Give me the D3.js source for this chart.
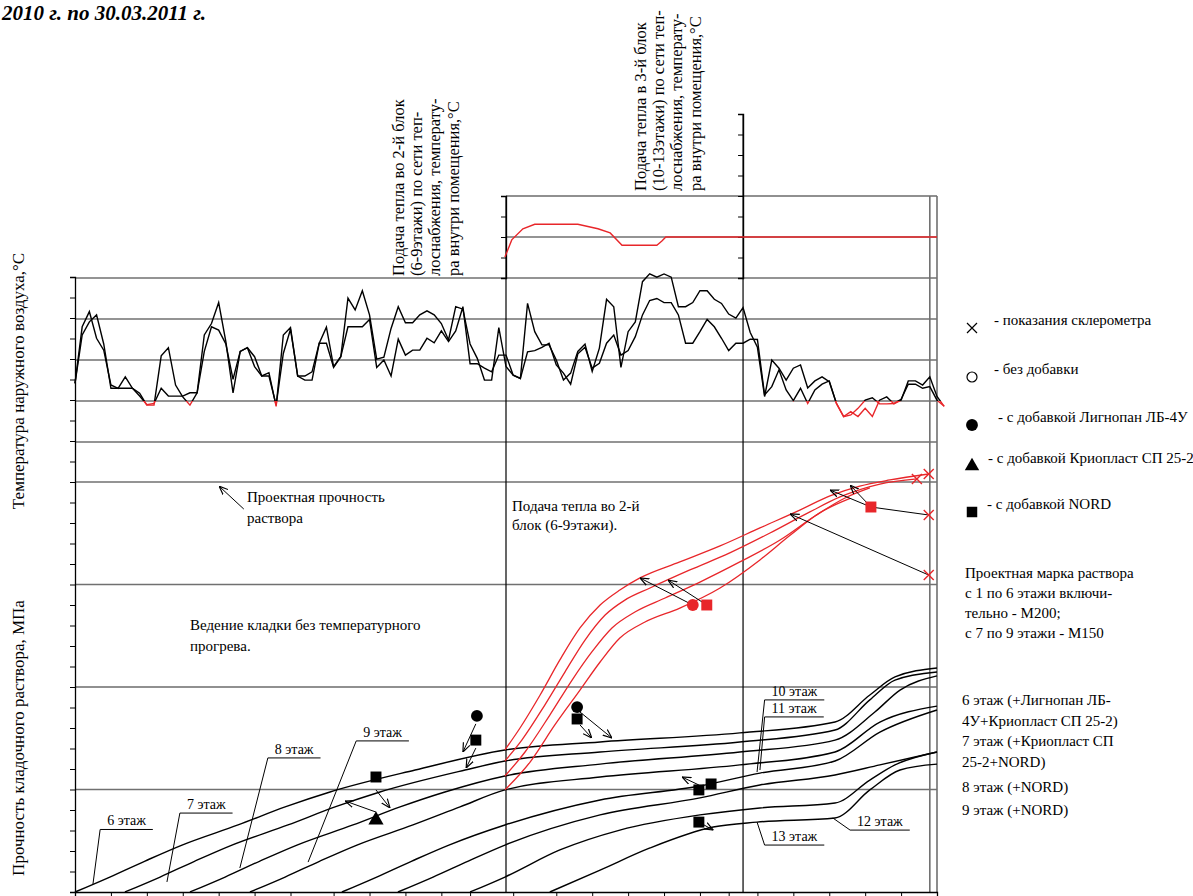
<!DOCTYPE html>
<html>
<head>
<meta charset="utf-8">
<script src="https://cdn.jsdelivr.net/npm/d3@7/dist/d3.min.js"></script>
<style>
  body { margin: 0; background: #fff; }
  svg text { font-family: "Liberation Serif", "Times New Roman", serif; fill: #000; }
</style>
</head>
<body>
<svg id="chart" width="1193" height="896"></svg>
<script>
// ---- data (days from start of period, °C, MPa) ----
const xTickDays = [0, 10, 20, 30, 40, 50, 60, 72, 82, 92, 102, 110, 122, 134, 144, 154, 164, 174, 182, 190, 200, 210, 220, 230, 240];

// outdoor air temperature, one value every 2 days
const outdoorTempA = [-25.7,-11.9,-8.2,-14.7,-17.6,-26.1,-26.9,-24.1,-26.9,-28.1,-31.0,-31.0,-19.0,-17.0,-26.1,-29.0,-31.0,-28.0,-13.9,-11.1,
  -6.0,-15.5,-28.0,-17.9,-17.0,-19.2,-23.9,-23.1,-31.3,-13.9,-12.1,-23.9,-23.9,-22.9,-15.9,-15.9,-21.8,-19.2,-4.9,-7.8,
  -3.1,-9.0,-19.8,-19.3,-12.3,-7.0,-10.9,-10.9,-9.0,-8.0,-9.0,-11.1,-15.1,-7.0,-7.6,-16.1,-19.6,-24.9,-24.9,-12.1,
  -21.6,-23.7,-24.5,-6.2,-13.1,-16.3,-16.3,-20.0,-24.9,-23.2,-17.9,-16.1,-22.8,-17.1,-5.2,-7.0,-21.8,-13.1,-10.7,-0.9,
  1.0,0.2,1.0,0.2,-7.0,-7.0,-6.0,-3.1,-3.1,-5.2,-6.2,-8.8,-9.8,-7.2,-13.3,-16.9,-28.9,-20.0,-22.0,-24.9,
  -22.0,-21.2,-26.8,-25.1,-24.1,-25.3,-30.6,-33.8,-32.6,-33.8,-31.8,-33.8,-29.8,-29.0,-30.7,-29.8,-25.1,-25.1,-26.1,-24.1,
  -28.9,-31.3];
const outdoorTempB = [-25.7,-13.9,-10.7,-9.0,-16.1,-26.9,-26.9,-26.9,-26.9,-28.8,-30.9,-30.6,-26.9,-28.8,-28.8,-28.8,-28.0,-28.0,-17.9,-11.9,
  -12.7,-16.1,-24.7,-17.9,-17.0,-21.6,-23.9,-23.9,-31.0,-18.4,-12.5,-23.9,-24.9,-24.9,-15.9,-12.0,-21.6,-19.2,-11.9,-11.9,
  -11.9,-10.1,-21.8,-20.0,-23.9,-14.9,-18.8,-17.6,-17.6,-14.7,-15.8,-12.9,-15.5,-12.9,-7.0,-20.9,-20.9,-22.0,-22.9,-18.8,
  -18.8,-23.7,-24.5,-18.0,-17.7,-16.9,-15.9,-21.2,-23.2,-25.9,-18.5,-16.9,-22.0,-20.8,-15.9,-13.9,-18.8,-17.7,-14.3,-9.0,
  -5.5,-5.0,-6.0,-6.0,-9.0,-15.9,-15.9,-13.1,-10.1,-11.9,-14.7,-17.7,-15.9,-15.9,-14.9,-15.0,-28.5,-26.5,-22.4,-27.3,
  -29.9,-26.9,-30.6,-27.3,-25.9,-25.1,-30.6,-33.8,-33.4,-31.8,-29.8,-29.2,-30.7,-30.7,-30.6,-29.6,-25.9,-25.9,-26.9,-26.5,
  -29.8,-31.3];
const coldLimit = -30;

// indoor temperature, block 2 (day, °C)
const indoorBlock2 = [[119.7,5.1],[121.6,9.3],[124.7,12.0],[128.0,13.1],[140.0,13.1],[145.6,12.0],[149.0,11.0],[152.3,8.0],
  [162.0,8.0],[163.4,9.0],[164.5,10.0],[240,10.0]];

const heatStartBlock2 = 120;
const heatStartBlock3 = 186;

// mortar strength by floor (day, MPa), unheated masonry
const floor6 = [[0,0],[9.7,0.73],[19.5,1.51],[29.8,2.29],[45.4,3.27],[58.5,4.15],[71.0,4.88],[94.7,5.95],[119.7,6.93],
  [146.2,7.32],[185.1,7.76],[211.6,8.29],[221.3,9.61],[228.3,10.49],[240,10.93]];
const floor7 = [[13.9,0],[23.7,0.73],[33.4,1.51],[43.7,2.29],[59.3,3.27],[72.4,4.15],[84.9,4.88],[108.6,5.95],[119.7,6.39],
  [146.2,6.83],[185.1,7.32],[211.6,7.90],[221.3,9.37],[228.3,10.34],[240,10.73]];
const floor8 = [[32.0,0],[41.8,0.73],[51.5,1.51],[61.8,2.29],[77.4,3.27],[90.5,4.15],[103.0,4.88],[119.7,5.66],
  [146.2,6.24],[185.1,6.83],[211.6,7.41],[222.7,8.78],[229.7,9.85],[240,10.54]];
const floor9 = [[48.7,0],[58.5,0.73],[68.2,1.51],[78.5,2.29],[94.1,3.27],[107.2,4.15],[119.7,4.98],
  [146.2,5.61],[185.1,6.20],[211.6,6.83],[224.1,8.29],[240,9.07]];
const floor10 = [[74.3,0],[84.0,0.73],[93.8,1.51],[104.1,2.29],[119.7,3.27],[146.2,4.49],[174.0,5.17],[190.7,5.80],
  [211.6,6.39],[224.1,7.80],[240,8.88]];
const floor11 = [[89.9,0],[99.7,0.73],[109.5,1.51],[119.7,2.29],[146.2,3.76],[174.0,4.59],[190.7,5.22],[211.6,5.71],
  [224.1,6.20],[240,6.83]];
const floor12 = [[110.0,0],[119.7,0.73],[135.0,2.05],[151.7,3.02],[174.0,3.76],[190.7,4.10],[211.6,4.34],[221.3,5.46],
  [228.3,6.20],[240,6.83]];
const floor13 = [[132.2,0],[146.2,1.07],[160.1,2.15],[177.7,3.17],[189.9,3.41],[211.6,3.61],[221.3,4.98],[229.7,5.95],[240,6.24]];
const unheatedFloors = [floor6, floor7, floor8, floor9, floor10, floor11, floor12, floor13];

// mortar strength with heating of block 2 (floors 6-9)
const heated6 = [[119.7,6.93],[123.9,8.0],[129.5,9.61],[135.0,11.32],[140.6,12.88],[146.2,14.0],[151.7,14.73],[157.3,15.32],
  [168.4,16.1],[179.6,16.88],[190.7,17.76],[201.8,18.63],[210.2,19.32],[218.5,19.8],[226.9,20.1],[237.7,20.39]];
const heated7 = [[119.7,6.39],[124.4,7.41],[130.8,9.12],[136.4,10.73],[142.0,12.29],[147.6,13.51],[153.1,14.24],[160.1,14.83],
  [171.2,15.71],[182.3,16.54],[193.5,17.51],[204.6,18.54],[213.0,19.27],[224.1,19.9],[234.4,20.15]];
const heated8 = [[119.7,5.66],[125.3,6.83],[132.2,8.63],[138.4,10.34],[143.9,11.71],[149.5,12.88],[155.9,13.66],[164.3,14.34],
  [174.0,15.12],[185.1,16.1],[196.3,17.17],[206.0,18.34],[214.4,19.22],[221.3,19.71]];
const heated9 = [[119.7,4.98],[126.7,6.34],[133.6,8.15],[140.6,9.85],[146.2,11.22],[151.7,12.39],[158.7,13.17],[168.4,13.85],
  [179.6,14.83],[190.7,16.2],[199.1,17.4],[207.4,18.5],[215.8,19.2]];
const heatedFloors = [heated6, heated7, heated8, heated9];

// test points: [day, MPa]
const pointsLignopan = [[111.9,8.59],[139.8,9.02]];
const pointsNord = [[111.6,7.41],[83.8,5.61],[139.8,8.44],[173.7,4.98],[177.1,5.27],[173.7,3.41]];
const pointsKrioplast = [[83.8,3.51]];
const pointsLignopanRed = [[172.0,14.0]];
const pointsNordRed = [[175.9,14.0],[221.6,18.78]];
const pointsSclerometer = [[234.4,20.15],[237.7,20.39],[237.7,18.39],[237.7,15.46]];

// arrows from test points to curves: [fromDay, fromMPa, toDay, toMPa]
const arrows = [[83.8,4.98,87.7,4.10],[83.8,3.90,75.2,4.44],[111.6,8.20,108.0,6.83],[111.6,7.02,108.9,6.05],
  [140.6,8.78,149.5,7.51],[140.6,8.15,143.9,7.51],[173.7,5.22,169.0,5.61],[173.7,3.41,177.7,3.02],
  [172.0,14.0,157.3,15.32],[175.9,14.0,165.1,15.22],[221.6,18.78,210.2,19.61],[221.6,18.78,215.8,19.85],
  [237.7,15.46,199.1,18.44],[47.0,18.68,40.1,19.80]];
const plainLinks = [[237.7,18.39,221.6,18.78]];

// floor labels: [text, labelDay, labelMPa, curveDay, curveMPa]
const floorLabels = [["6 этаж",7.0,3.05,5.0,0.39],["7 этаж",29.2,3.85,25.6,0.49],["8 этаж",53.7,6.54,45.9,1.17],
  ["9 этаж",78.3,7.37,64.9,1.46],["10 этаж",192.0,9.37,189.9,5.85],["11 этаж",192.0,8.54,190.7,5.95],
  ["12 этаж",215.8,3.02,211.0,3.61],["13 этаж",192.0,2.29,189.9,3.41]];

// ---- drawing ----
const svg = d3.select("#chart");
const x = d3.scaleLinear().domain([0, 240]).range([75, 937]);
const yS = d3.scaleLinear().domain([0, 30]).range([892, 277]);      // strength, MPa
const yT = d3.scaleLinear().domain([0, -30]).range([278, 401]);     // outdoor, °C
const yI = d3.scaleLinear().domain([0, 20]).range([278, 196]);      // indoor, °C
const yI3 = d3.scaleLinear().domain([0, 40]).range([278, 114]);

const grey = "#707070";

// horizontal grid
[0, -10, -20, -30, -40].forEach(t => {
  svg.append("line").attr("x1", x(0)).attr("x2", x(240)).attr("y1", yT(t)).attr("y2", yT(t))
    .attr("stroke", grey).attr("stroke-width", 1.6);
});
[5, 10, 15, 20].forEach(s => {
  svg.append("line").attr("x1", x(0)).attr("x2", x(240)).attr("y1", yS(s)).attr("y2", yS(s))
    .attr("stroke", s === 10 ? "#222" : grey).attr("stroke-width", s === 10 ? 1.2 : 1.6);
});
svg.append("line").attr("x1", x(heatStartBlock2)).attr("x2", x(240)).attr("y1", yI(10)).attr("y2", yI(10))
  .attr("stroke", grey).attr("stroke-width", 1.6);
svg.append("line").attr("x1", x(heatStartBlock2)).attr("x2", x(240)).attr("y1", yI(20)).attr("y2", yI(20))
  .attr("stroke", "#222").attr("stroke-width", 1.2);

// vertical lines
svg.append("line").attr("x1", x(heatStartBlock2)).attr("x2", x(heatStartBlock2)).attr("y1", yI(20)).attr("y2", yS(0))
  .attr("stroke", "#000").attr("stroke-width", 1.2);
svg.append("line").attr("x1", x(heatStartBlock3)).attr("x2", x(heatStartBlock3)).attr("y1", yI3(40)).attr("y2", yS(0))
  .attr("stroke", "#000").attr("stroke-width", 1.2);
[238, 240].forEach(d => {
  svg.append("line").attr("x1", x(d)).attr("x2", x(d)).attr("y1", yI(20)).attr("y2", yS(0))
    .attr("stroke", grey).attr("stroke-width", 1.6);
});

// axes
function minorAxis(axis, scale, step) {
  const [a, b] = scale.domain();
  const lo = Math.min(a, b), hi = Math.max(a, b);
  return axis.scale(scale).tickValues(d3.range(lo, hi + 1e-6, step)).tickSize(2).tickFormat("");
}
const gLeft = svg.append("g").attr("transform", `translate(${x(0)},0)`);
gLeft.call(minorAxis(d3.axisLeft(), yS, 0.2));
gLeft.call(d3.axisLeft(yS).tickValues(d3.range(0, 31)).tickSize(5).tickFormat(""));

const gIn = svg.append("g").attr("transform", `translate(${x(heatStartBlock2)},0)`);
gIn.call(minorAxis(d3.axisLeft(), yI, 1));
gIn.call(d3.axisLeft(yI).tickValues(d3.range(0, 21, 5)).tickSize(5).tickFormat(""));

const gIn3 = svg.append("g").attr("transform", `translate(${x(heatStartBlock3)},0)`);
gIn3.call(minorAxis(d3.axisLeft(), yI3, 1));
gIn3.call(d3.axisLeft(yI3).tickValues(d3.range(0, 41, 5)).tickSize(5).tickFormat(""));

svg.append("g").attr("transform", `translate(0,${yS(0)})`)
  .call(d3.axisBottom(x).tickValues(xTickDays).tickSize(6).tickFormat(""));
svg.selectAll(".domain").attr("stroke", "#000").attr("stroke-width", 1.3);

// outdoor temperature, red below the limit
const defs = svg.append("defs");
defs.append("clipPath").attr("id", "warm").append("rect")
  .attr("x", 0).attr("y", 0).attr("width", 1193).attr("height", yT(coldLimit));
defs.append("clipPath").attr("id", "cold").append("rect")
  .attr("x", 0).attr("y", yT(coldLimit)).attr("width", 1193).attr("height", 200);

const tLine = d3.line().x((d, i) => x(i * 2)).y(d => yT(d));
[outdoorTempA, outdoorTempB].forEach(series => {
  svg.append("path").datum(series).attr("d", tLine).attr("fill", "none")
    .attr("stroke", "#000").attr("stroke-width", 1.4).attr("clip-path", "url(#warm)");
  svg.append("path").datum(series).attr("d", tLine).attr("fill", "none")
    .attr("stroke", "#e8262a").attr("stroke-width", 1.4).attr("clip-path", "url(#cold)");
});

// indoor temperature
svg.append("path").datum(indoorBlock2)
  .attr("d", d3.line().x(d => x(d[0])).y(d => yI(d[1])))
  .attr("fill", "none").attr("stroke", "#e8262a").attr("stroke-width", 1.4);

// strength curves
const sLine = d3.line().x(d => x(d[0])).y(d => yS(d[1])).curve(d3.curveMonotoneX);
unheatedFloors.forEach(c => {
  svg.append("path").datum(c).attr("d", sLine).attr("fill", "none").attr("stroke", "#000").attr("stroke-width", 1.4);
});
heatedFloors.forEach(c => {
  svg.append("path").datum(c).attr("d", sLine).attr("fill", "none").attr("stroke", "#e8262a").attr("stroke-width", 1.3);
});

// arrows
defs.append("marker").attr("id", "ah").attr("viewBox", "0 0 10 10").attr("refX", 10).attr("refY", 5)
  .attr("markerWidth", 9).attr("markerHeight", 9).attr("orient", "auto-start-reverse")
  .append("path").attr("d", "M0,1 L10,5 L0,9").attr("fill", "none").attr("stroke", "#000").attr("stroke-width", 1.3);
arrows.forEach(a => {
  svg.append("line").attr("x1", x(a[0])).attr("y1", yS(a[1])).attr("x2", x(a[2])).attr("y2", yS(a[3]))
    .attr("stroke", "#000").attr("stroke-width", 1).attr("marker-end", "url(#ah)");
});
plainLinks.forEach(a => {
  svg.append("line").attr("x1", x(a[0])).attr("y1", yS(a[1])).attr("x2", x(a[2])).attr("y2", yS(a[3]))
    .attr("stroke", "#000").attr("stroke-width", 1);
});

// markers
const sym = (type, size) => d3.symbol().type(type).size(size)();
function drawPoints(pts, type, size, color) {
  svg.append("g").selectAll("path").data(pts).join("path")
    .attr("transform", d => `translate(${x(d[0])},${yS(d[1])})`)
    .attr("d", sym(type, size)).attr("fill", color);
}
drawPoints(pointsLignopan, d3.symbolCircle, 110, "#000");
drawPoints(pointsNord, d3.symbolSquare, 120, "#000");
drawPoints(pointsKrioplast, d3.symbolTriangle, 100, "#000");
drawPoints(pointsLignopanRed, d3.symbolCircle, 110, "#e8262a");
drawPoints(pointsNordRed, d3.symbolSquare, 120, "#e8262a");
svg.append("g").selectAll("path").data(pointsSclerometer).join("path")
  .attr("transform", d => `translate(${x(d[0])},${yS(d[1])})`)
  .attr("d", "M-5,-5L5,5M-5,5L5,-5").attr("stroke", "#e8262a").attr("stroke-width", 1.4);

// floor labels with leaders
floorLabels.forEach(f => {
  const lx = x(f[1]), ly = yS(f[2]);
  const t = svg.append("text").attr("x", lx + 7).attr("y", ly - 4).attr("font-size", 14).text(f[0]);
  const w = t.node().getComputedTextLength() + 14;
  svg.append("polyline").attr("points", `${x(f[3])},${yS(f[4])} ${lx},${ly} ${lx + w},${ly}`)
    .attr("fill", "none").attr("stroke", "#000").attr("stroke-width", 1);
});

// texts
function multiline(xp, yp, lines, size, lh) {
  const t = svg.append("text").attr("x", xp).attr("y", yp).attr("font-size", size);
  lines.forEach((l, i) => t.append("tspan").attr("x", xp).attr("dy", i ? lh : 0).text(l));
}
multiline(247, 502, ["Проектная прочность", "раствора"], 15, 21);
multiline(512, 511, ["Подача тепла во 2-й", "блок (6-9этажи)."], 15, 19);
multiline(190, 630, ["Ведение кладки без температурного", "прогрева."], 15, 21);
multiline(965, 578, ["Проектная марка раствора", "с 1 по 6 этажи включи-", "тельно - М200;", "с 7 по 9 этажи - М150"], 15, 20);
multiline(962, 705, ["6 этаж (+Лигнопан ЛБ-", "4У+Криопласт СП 25-2)", "7 этаж (+Криопласт СП", "25-2+NORD)"], 15, 20.5);
multiline(962, 792, ["8 этаж (+NORD)"], 15, 20);
multiline(962, 815, ["9 этаж (+NORD)"], 15, 20);

// legend
const legendItems = [["cross", "- показания склерометра", 328, 994], ["open", "- без добавки", 377, 994],
  ["circle", "-  с добавкой Лигнопан ЛБ-4У", 425, 998], ["triangle", "- с добавкой Криопласт СП 25-2", 466, 988],
  ["square", "- с добавкой NORD", 512, 987]];
legendItems.forEach(([k, label, ly, tx]) => {
  const g = svg.append("g").attr("transform", `translate(972,${ly})`);
  if (k === "cross") g.append("path").attr("d", "M-5,-5L5,5M-5,5L5,-5").attr("stroke", "#000").attr("stroke-width", 1.2);
  if (k === "open") g.append("circle").attr("r", 5).attr("fill", "none").attr("stroke", "#000").attr("stroke-width", 1.2);
  if (k === "circle") g.append("path").attr("d", sym(d3.symbolCircle, 110)).attr("fill", "#000");
  if (k === "triangle") g.append("path").attr("d", sym(d3.symbolTriangle, 90)).attr("fill", "#000");
  if (k === "square") g.append("path").attr("d", sym(d3.symbolSquare, 110)).attr("fill", "#000");
  svg.append("text").attr("x", tx).attr("y", ly - 3).attr("font-size", 15).text(label);
});

// rotated annotations
function vertical(xp, yp, lines, size, lh) {
  lines.forEach((l, i) => {
    svg.append("text").attr("transform", `translate(${xp + i * lh},${yp}) rotate(-90)`)
      .attr("font-size", size).text(l);
  });
}
vertical(404, 276, ["Подача тепла во 2-й блок", "(6-9этажи) по сети теп-", "лоснабжения, температу-", "ра внутри помещения,°C"], 16.5, 18.2);
vertical(646, 191, ["Подача тепла в 3-й блок", "(10-13этажи) по сети теп-", "лоснабжения, температу-", "ра внутри помещения,°C"], 16.5, 18.2);

svg.append("text").attr("transform", "translate(24,381) rotate(-90)").attr("text-anchor", "middle")
  .attr("font-size", 17).text("Температура наружного воздуха,°C");
svg.append("text").attr("transform", "translate(24,738) rotate(-90)").attr("text-anchor", "middle")
  .attr("font-size", 17).text("Прочность кладочного раствора, МПа");

svg.append("text").attr("x", 2).attr("y", 20).attr("font-size", 21).attr("font-style", "italic").attr("font-weight", "bold")
  .text("2010 г. по 30.03.2011 г.");
</script>
</body>
</html>
